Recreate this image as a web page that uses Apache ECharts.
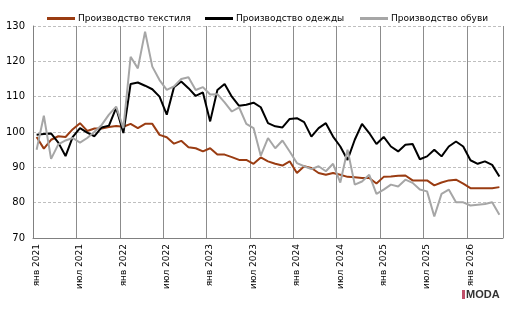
<!DOCTYPE html>
<html lang="ru">
<head>
    <meta charset="UTF-8">
    <title>Производство текстиля, одежды и обуви</title>
    <script src="https://cdn.jsdelivr.net/npm/echarts/dist/echarts.min.js"></script>
    <style>
        body { margin: 0; background: #fff; }
    </style>
</head>
<body>
    <div id="main" style="width: 520px; height: 313px;"></div>

    <script>
        // Monthly index values, Jan 2021 .. May 2026
        var monthNames = ['янв', 'фев', 'мар', 'апр', 'май', 'июн', 'июл', 'авг', 'сен', 'окт', 'ноя', 'дек'];
        var months = [];
        for (var y = 2021; y <= 2026; y++) {
            for (var m = 0; m < 12; m++) {
                if (y === 2026 && m > 4) break;
                months.push(monthNames[m] + ' ' + y);
            }
        }

        var seriesNames = ['Производство текстиля', 'Производство одежды', 'Производство обуви'];

        var textile = [
            98.6, 95.3, 97.8, 98.8, 98.6, 100.8, 102.5, 100.3, 101.0, 101.0, 101.4, 101.7,
            101.5, 102.3, 101.1, 102.3, 102.3, 99.2, 98.5, 96.7, 97.5, 95.7, 95.4, 94.5,
            95.4, 93.6, 93.6, 92.9, 92.1, 92.1, 91.0, 92.8, 91.7, 91.0, 90.5, 91.7,
            88.4, 90.3, 89.8, 88.4, 87.9, 88.4, 87.9, 87.3, 87.2, 87.0, 87.0, 85.4,
            87.3, 87.4, 87.6, 87.7, 86.3, 86.3, 86.3, 84.9, 85.7, 86.3, 86.5, 85.4,
            84.1, 84.1, 84.1, 84.1, 84.4
        ];
        var clothing = [
            99.2, 99.4, 99.6, 97.0, 93.2, 98.6, 101.1, 99.8, 98.8, 101.3, 101.8, 106.8,
            99.7, 113.6, 114.0, 113.1, 112.1, 110.0, 104.9, 112.7, 114.3, 112.4, 110.2, 111.2,
            103.0, 111.9, 113.6, 110.0, 107.4, 107.7, 108.3, 107.0, 102.5, 101.6, 101.3, 103.7,
            103.9, 102.8, 98.7, 101.1, 102.5, 98.7, 95.9, 92.1, 97.8, 102.3, 99.7, 96.6,
            98.6, 95.9, 94.5, 96.4, 96.6, 92.3, 93.1, 95.0, 93.1, 95.9, 97.3, 95.9,
            92.0, 91.0, 91.7, 90.7, 87.4
        ];
        var footwear = [
            95.0, 104.6, 92.4, 96.5, 97.6, 98.3, 97.0, 98.3, 100.1, 102.0, 104.9, 107.2,
            101.1, 121.3, 118.0, 128.4, 118.5, 114.7, 111.9, 112.9, 115.0, 115.5, 111.9, 112.7,
            110.6, 110.7, 108.4, 105.8, 107.0, 102.3, 101.1, 93.3, 98.3, 95.4, 97.6, 94.5,
            91.2, 90.3, 89.5, 90.3, 88.9, 91.0, 85.7, 95.0, 85.1, 86.0, 87.9, 82.5,
            83.7, 85.1, 84.6, 86.5, 85.6, 83.7, 83.2, 76.1, 82.5, 83.7, 80.1, 80.1,
            79.2, 79.4, 79.6, 80.1, 76.6
        ];

        var chart = echarts.init(document.getElementById('main'));
        var font = 'DejaVu Sans';

        // one legend per item so each sits where the original has it
        var legendLefts = [42, 200, 355];
        var legends = seriesNames.map(function (name, i) {
            return {
                data: [name],
                top: 9,
                left: legendLefts[i],
                itemWidth: 28,
                itemHeight: 3,
                itemGap: 0,
                icon: 'rect',
                textStyle: { fontSize: 9, color: '#000', fontFamily: font, padding: [0, 0, 0, -2] }
            };
        });

        var option = {
            animation: false,
            textStyle: { fontFamily: font },
            color: ['#9a3c12', '#000000', '#a6a6a6'],
            legend: legends,
            grid: { left: 33, right: 17, top: 26, bottom: 75 },
            xAxis: {
                type: 'category',
                data: months,
                boundaryGap: true,
                axisLine: { lineStyle: { color: '#808080' } },
                axisTick: { interval: 5, length: 4, lineStyle: { color: '#808080' } },
                splitLine: { show: true, interval: 5, lineStyle: { color: '#8c8c8c', width: 1 } },
                axisLabel: {
                    interval: 5,
                    rotate: 90,
                    margin: 6,
                    fontSize: 9,
                    color: '#000',
                    fontFamily: font
                }
            },
            yAxis: {
                type: 'value',
                min: 70,
                max: 130,
                interval: 10,
                axisLine: { show: true, lineStyle: { color: '#808080' } },
                axisTick: { show: false },
                splitLine: { lineStyle: { color: '#bfbfbf', type: [3, 2] } },
                axisLabel: { fontSize: 10, color: '#000', margin: 8, fontFamily: font }
            },
            series: [
                { name: seriesNames[0], type: 'line', data: textile, symbol: 'none', lineStyle: { width: 2 } },
                { name: seriesNames[1], type: 'line', data: clothing, symbol: 'none', lineStyle: { width: 2 } },
                { name: seriesNames[2], type: 'line', data: footwear, symbol: 'none', lineStyle: { width: 2 } }
            ],
            graphic: [
                { type: 'rect', left: 462, top: 290, shape: { width: 3, height: 9 }, style: { fill: '#c0506a' } },
                {
                    type: 'text', left: 466, top: 289,
                    style: { text: 'MODA', font: 'bold 11px "Liberation Sans"', fill: '#333' }
                }
            ]
        };

        chart.setOption(option);
    </script>
</body>
</html>
